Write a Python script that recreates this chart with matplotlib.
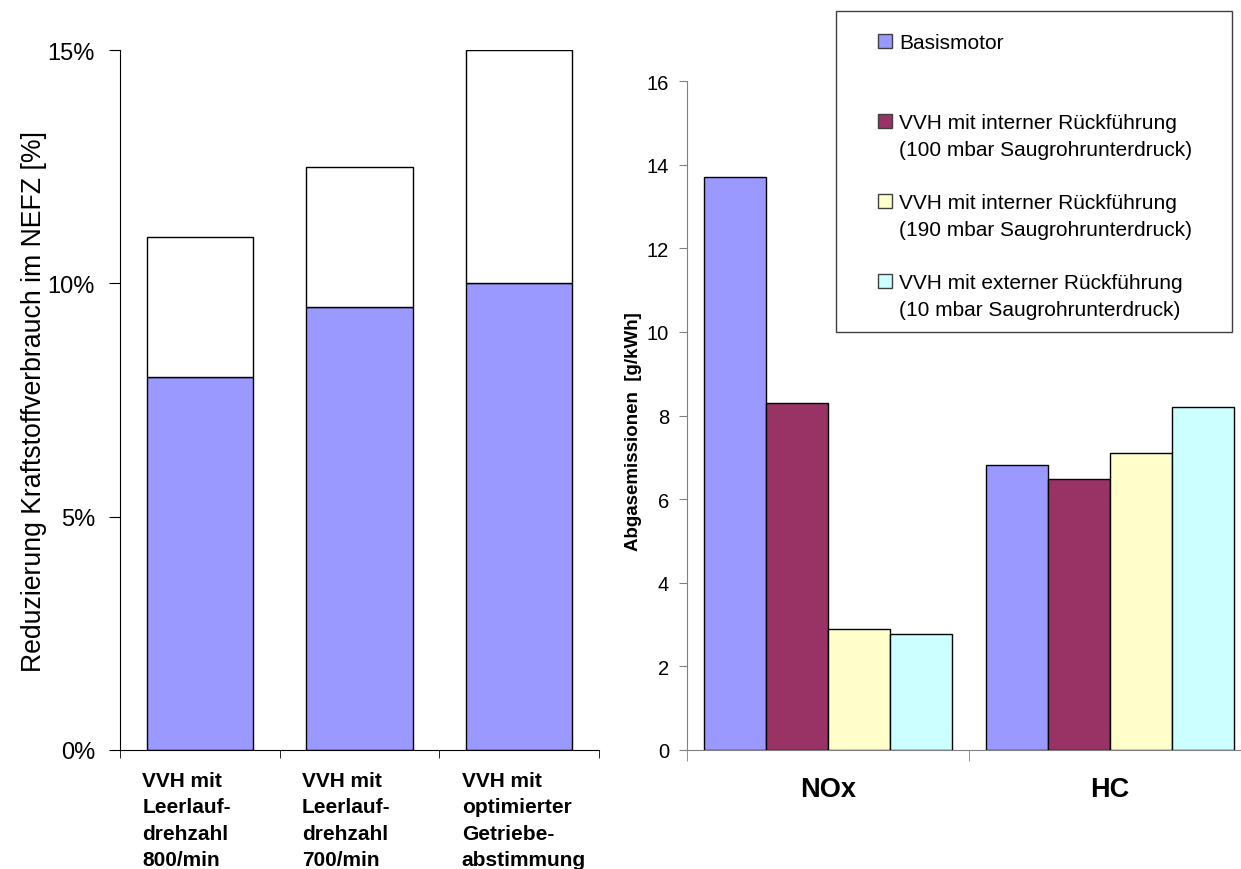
import matplotlib as mpl
import matplotlib.pyplot as plt
import matplotlib.transforms as mtransforms
from matplotlib.patches import Rectangle
from matplotlib.ticker import FixedLocator, PercentFormatter

mpl.rcParams['font.family'] = ['Liberation Sans', 'DejaVu Sans']

# left chart: fuel saving in the NEDC (percent)
massnahmen = ['VVH mit\nLeerlauf-\ndrehzahl\n800/min',
              'VVH mit\nLeerlauf-\ndrehzahl\n700/min',
              'VVH mit\noptimierter\nGetriebe-\nabstimmung']
reduzierung_basis = [8.0, 9.5, 10.0]
reduzierung_zusatz = [3.0, 3.0, 5.0]

# right chart: exhaust emissions (g/kWh)
komponenten = ['NOx', 'HC']
varianten = ['Basismotor',
             'VVH mit interner Rückführung\n(100 mbar Saugrohrunterdruck)',
             'VVH mit interner Rückführung\n(190 mbar Saugrohrunterdruck)',
             'VVH mit externer Rückführung\n(10 mbar Saugrohrunterdruck)']
emission_basis = [13.7, 6.82]
emission_int100 = [8.3, 6.47]
emission_int190 = [2.9, 7.1]
emission_ext10 = [2.78, 8.2]
farben = ['#9999FF', '#993366', '#FFFFCC', '#CCFFFF']

W, H = 1241, 870
fig = plt.figure(figsize=(W / 100, H / 100), dpi=100)

# ---- left chart
ax1 = fig.add_axes([120 / W, 1 - 751 / H, 479 / W, 700 / H])
x1 = range(len(massnahmen))
ax1.bar(x1, reduzierung_basis, width=0.665, color=farben[0], edgecolor='black', linewidth=1)
ax1.bar(x1, reduzierung_zusatz, width=0.665, bottom=reduzierung_basis,
        color='white', edgecolor='black', linewidth=1)
ax1.set_xlim(-0.5, 2.5)
ax1.set_ylim(0, 15)
ax1.set_yticks([0, 5, 10, 15])
ax1.yaxis.set_major_formatter(PercentFormatter(decimals=0))
ax1.tick_params(axis='y', labelsize=17, length=8, pad=10, direction='out')
ax1.set_xticks([])
ax1.xaxis.set_minor_locator(FixedLocator([-0.5, 0.5, 1.5, 2.5]))
ax1.tick_params(axis='x', which='minor', length=6, direction='out')
for side in ['top', 'right']:
    ax1.spines[side].set_visible(False)
ax1.set_ylabel('Reduzierung Kraftstoffverbrauch im NEFZ [%]', fontsize=19.2)
ax1.yaxis.set_label_coords(-0.153, 0.5)

trans = mtransforms.blended_transform_factory(ax1.transData, ax1.transAxes)
for i, lab in enumerate(massnahmen):
    ax1.text(i - 0.36, -0.03, lab, transform=trans, ha='left', va='top',
             fontsize=15, fontweight='bold', linespacing=1.5)

# ---- right chart
ax2 = fig.add_axes([687 / W, 1 - 751 / H, 564 / W, 669 / H])
bw = 0.22
reihen = [emission_basis, emission_int100, emission_int190, emission_ext10]
for j, werte in enumerate(reihen):
    xs = [i + (j - 1.5) * bw for i in range(len(komponenten))]
    ax2.bar(xs, werte, width=bw, color=farben[j], edgecolor='black', linewidth=1)
ax2.set_xlim(-0.5, 1.5)
ax2.set_ylim(0, 16)
ax2.set_yticks(range(0, 17, 2))
ax2.tick_params(axis='y', labelsize=14.5, length=6, pad=7, color='#808080')
ax2.set_xticks([0, 1], komponenten, fontsize=19.5, fontweight='bold')
ax2.tick_params(axis='x', which='major', length=0, pad=19)
ax2.xaxis.set_minor_locator(FixedLocator([-0.5, 0.5, 1.5]))
ax2.tick_params(axis='x', which='minor', length=8, color='#808080')
for side in ['top', 'right']:
    ax2.spines[side].set_visible(False)
for side in ['left', 'bottom']:
    ax2.spines[side].set_color('#808080')
ax2.set_ylabel('Abgasemissionen  [g/kWh]', fontsize=13.5, fontweight='bold')
ax2.yaxis.set_label_coords(-0.08, 0.478)

# ---- legend box
fig.patches.append(Rectangle((836 / W, 1 - 333 / H), 396 / W, 321 / H,
                             transform=fig.transFigure, facecolor='white',
                             edgecolor='#404040', linewidth=1))
zeilen_y = [42, 122, 202, 282]
for farbe, name, yy in zip(farben, varianten, zeilen_y):
    fig.patches.append(Rectangle((878 / W, 1 - (yy + 7) / H), 14 / W, 14 / H,
                                 transform=fig.transFigure, facecolor=farbe,
                                 edgecolor='#404040', linewidth=1))
    fig.text(899 / W, 1 - (yy - 8) / H, name, ha='left', va='top',
             fontsize=15, linespacing=1.5)

fig.savefig('out.png', dpi=100)
